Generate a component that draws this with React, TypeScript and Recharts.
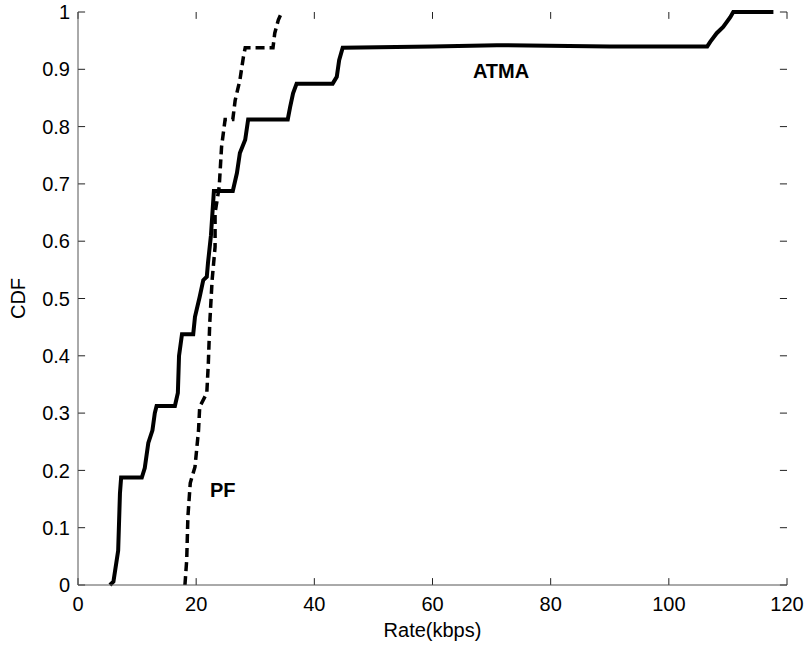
import React from "react";
import {
  LineChart, Line, XAxis, YAxis, ReferenceDot, ReferenceLine,
} from "recharts";

const atma = [
  { x: 5.4, y: 0 }, { x: 6.0, y: 0.006 }, { x: 6.8, y: 0.06 }, { x: 7.1, y: 0.16 },
  { x: 7.3, y: 0.1875 }, { x: 10.8, y: 0.1875 }, { x: 11.3, y: 0.204 }, { x: 11.9, y: 0.248 },
  { x: 12.6, y: 0.27 }, { x: 13.0, y: 0.3 }, { x: 13.3, y: 0.3125 }, { x: 16.4, y: 0.3125 },
  { x: 16.9, y: 0.335 }, { x: 17.1, y: 0.4 }, { x: 17.6, y: 0.4375 }, { x: 19.5, y: 0.4375 },
  { x: 19.8, y: 0.468 }, { x: 20.6, y: 0.503 }, { x: 21.2, y: 0.532 }, { x: 21.8, y: 0.538 },
  { x: 22.0, y: 0.562 }, { x: 22.5, y: 0.61 }, { x: 23.0, y: 0.6875 }, { x: 26.2, y: 0.6875 },
  { x: 26.9, y: 0.719 }, { x: 27.4, y: 0.754 }, { x: 28.3, y: 0.777 }, { x: 28.8, y: 0.8125 },
  { x: 35.5, y: 0.8125 }, { x: 35.9, y: 0.834 }, { x: 36.4, y: 0.858 }, { x: 37.0, y: 0.875 },
  { x: 43.1, y: 0.875 }, { x: 43.8, y: 0.887 }, { x: 44.2, y: 0.916 }, { x: 44.8, y: 0.9375 },
  { x: 60, y: 0.94 }, { x: 70.9, y: 0.942 }, { x: 90, y: 0.94 }, { x: 106.5, y: 0.94 },
  { x: 107, y: 0.948 }, { x: 108.1, y: 0.963 }, { x: 109.2, y: 0.974 }, { x: 110.4, y: 0.991 },
  { x: 110.9, y: 1 }, { x: 117.7, y: 1 },
];

const pf = [
  { x: 18.1, y: 0 }, { x: 18.4, y: 0.044 }, { x: 18.6, y: 0.119 }, { x: 19.0, y: 0.178 },
  { x: 19.8, y: 0.206 }, { x: 20.4, y: 0.27 }, { x: 20.6, y: 0.311 }, { x: 21.8, y: 0.335 },
  { x: 22.06, y: 0.387 }, { x: 22.3, y: 0.457 }, { x: 22.7, y: 0.532 }, { x: 23.2, y: 0.59 },
  { x: 23.2, y: 0.649 }, { x: 23.9, y: 0.695 }, { x: 24.3, y: 0.765 }, { x: 24.9, y: 0.8125 },
  { x: 26.2, y: 0.8125 }, { x: 26.6, y: 0.846 }, { x: 27.4, y: 0.881 }, { x: 28.0, y: 0.922 },
  { x: 28.3, y: 0.9375 }, { x: 33.0, y: 0.9375 }, { x: 33.3, y: 0.963 }, { x: 33.9, y: 0.986 },
  { x: 34.5, y: 1 },
];

const xTicks = [0, 20, 40, 60, 80, 100, 120];
const yTicks = [0, 0.1, 0.2, 0.3, 0.4, 0.5, 0.6, 0.7, 0.8, 0.9, 1];

const seriesLabels = [
  { name: "ATMA", x: 71.6, y: 0.897 },
  { name: "PF", x: 24.5, y: 0.166 },
];

const font = "'Liberation Sans', Arial, Helvetica, sans-serif";
const axisStroke = { stroke: "#555", strokeWidth: 1 };
const tickStroke = "#222";
// inward tick length in data units (~7px)
const xTickLen = 1.2;
const yTickLen = 0.012;

const fmt = (v: number) => (Number.isInteger(v) ? String(v) : v.toFixed(1));

export default function App() {
  return (
    <div style={{ position: "absolute", left: 0, top: 0, width: 810, height: 650, background: "#fff", fontFamily: font }}>
      <LineChart width={810} height={650} margin={{ top: 12, right: 23, bottom: 0, left: 0 }}>
        <XAxis
          type="number" dataKey="x" domain={[0, 120]} ticks={xTicks} height={65}
          tickSize={0} tickMargin={12} tickLine={false} axisLine={axisStroke}
          tick={{ fontSize: 20, fill: "#000", fontFamily: font }}
          label={{ value: "Rate(kbps)", position: "insideBottom", offset: 13, fontSize: 20, fill: "#000", fontFamily: font }}
        />
        <XAxis
          xAxisId="top" orientation="top" type="number" domain={[0, 120]}
          height={0} tick={false} tickLine={false} axisLine={axisStroke}
        />
        <YAxis
          type="number" domain={[0, 1]} ticks={yTicks} width={78}
          tickSize={0} tickMargin={8} tickLine={false} axisLine={axisStroke} tickFormatter={fmt}
          tick={{ fontSize: 20, fill: "#000", fontFamily: font }}
          label={{ value: "CDF", angle: -90, position: "insideLeft", offset: 18, fontSize: 20, fill: "#000", fontFamily: font, style: { textAnchor: "middle" } }}
        />
        <YAxis
          yAxisId="right" orientation="right" type="number" domain={[0, 1]}
          width={0} tick={false} tickLine={false} axisLine={axisStroke}
        />
        {xTicks.map((t) => (
          <ReferenceLine key={`b${t}`} segment={[{ x: t, y: 0 }, { x: t, y: yTickLen }]} stroke={tickStroke} ifOverflow="visible" />
        ))}
        {xTicks.map((t) => (
          <ReferenceLine key={`t${t}`} segment={[{ x: t, y: 1 }, { x: t, y: 1 - yTickLen }]} stroke={tickStroke} ifOverflow="visible" />
        ))}
        {yTicks.map((t) => (
          <ReferenceLine key={`l${t}`} segment={[{ x: 0, y: t }, { x: xTickLen, y: t }]} stroke={tickStroke} ifOverflow="visible" />
        ))}
        {yTicks.map((t) => (
          <ReferenceLine key={`r${t}`} segment={[{ x: 120, y: t }, { x: 120 - xTickLen, y: t }]} stroke={tickStroke} ifOverflow="visible" />
        ))}
        <Line
          data={pf} dataKey="y" type="linear" stroke="#000" strokeWidth={3.5}
          strokeDasharray="9 5" dot={false} isAnimationActive={false}
        />
        <Line
          data={atma} dataKey="y" type="linear" stroke="#000" strokeWidth={4}
          dot={false} isAnimationActive={false}
        />
        {seriesLabels.map((l) => (
          <ReferenceDot
            key={l.name} x={l.x} y={l.y} r={0} fill="none" stroke="none"
            label={{ value: l.name, position: "center", fontSize: 20, fontWeight: 700, fill: "#000", fontFamily: font }}
          />
        ))}
      </LineChart>
    </div>
  );
}
